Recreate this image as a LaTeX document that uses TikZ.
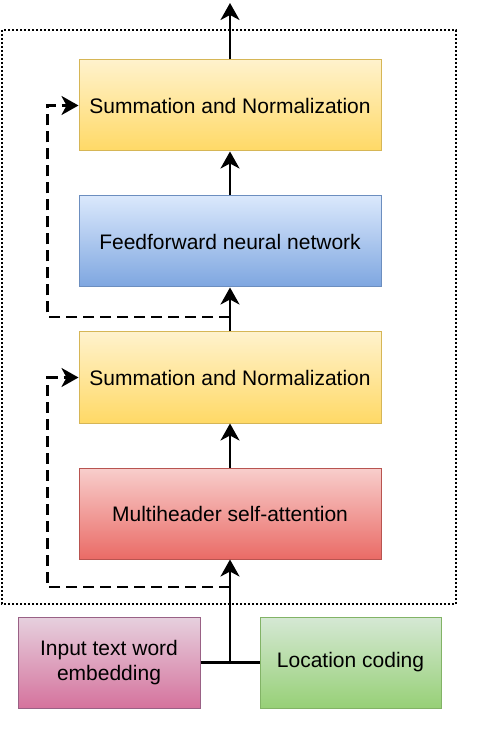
\documentclass[tikz,border=0pt]{standalone}
\usepackage{fontspec}
\setmainfont{Liberation Sans}
\usepackage{tikz}
\usetikzlibrary{shapes,arrows.meta,positioning,calc}

\definecolor{yelTop}{HTML}{FFF2CC}\definecolor{yelBot}{HTML}{FFD966}\definecolor{yelLine}{HTML}{D6B656}
\definecolor{bluTop}{HTML}{DAE8FC}\definecolor{bluBot}{HTML}{7EA6E0}\definecolor{bluLine}{HTML}{6C8EBF}
\definecolor{redTop}{HTML}{F8CECC}\definecolor{redBot}{HTML}{EA6B66}\definecolor{redLine}{HTML}{B85450}
\definecolor{pnkTop}{HTML}{E6D0DE}\definecolor{pnkBot}{HTML}{D5739D}\definecolor{pnkLine}{HTML}{996185}
\definecolor{grnTop}{HTML}{D5E8D4}\definecolor{grnBot}{HTML}{97D077}\definecolor{grnLine}{HTML}{82B366}

\tikzset{
  block/.style={draw, line width=0.5pt, minimum width=151pt, minimum height=45.5pt,
    inner sep=2pt, align=center, font=\fontsize{10.5}{12.5}\selectfont},
  sumnorm/.style={block, top color=yelTop, bottom color=yelBot, draw=yelLine},
  ffn/.style={block, top color=bluTop, bottom color=bluBot, draw=bluLine},
  attn/.style={block, top color=redTop, bottom color=redBot, draw=redLine},
  embed/.style={block, minimum width=91pt, top color=pnkTop, bottom color=pnkBot, draw=pnkLine},
  poscode/.style={block, minimum width=90.5pt, top color=grnTop, bottom color=grnBot, draw=grnLine},
  flow/.style={line width=1.3pt, -{Stealth[length=8.5pt,width=9.5pt,inset=2.5pt]}},
  skip/.style={flow, dash pattern=on 5.5pt off 3pt},
  frame/.style={line width=1.2pt, dash pattern=on 1pt off 1pt}
}

\begin{document}
\begin{tikzpicture}[x=0.5pt, y=-0.5pt]
  % Canvas (pixel units, y downwards)
  \useasboundingbox (0,0) rectangle (484,742);

  % Encoder frame
  \draw[frame] (2,30) rectangle (456,604);

  % Blocks
  \node[sumnorm] (add2) at (230,105.5) {Summation and Normalization};
  \node[ffn]     (ff)   at (230,241.5) {Feedforward neural network};
  \node[sumnorm] (add1) at (230,377.5) {Summation and Normalization};
  \node[attn]    (mhsa) at (230,513.5) {Multiheader self-attention};

  % Inputs
  \node[embed]   (emb) at (109,662.5) {Input text word\\embedding};
  \node[poscode] (loc) at (350.5,662.5) {Location coding};

  % Helper points
  \coordinate (join) at (emb.east -| mhsa.south);
  \coordinate (out)  at (230,3);
  \coordinate (r1)   at (230,587);
  \coordinate (r2)   at (230,317);

  % Main path
  \draw[line width=1.3pt] (emb.east) -- (loc.west);
  \draw[flow] (join) -- (mhsa.south);
  \draw[flow] (mhsa.north) -- (add1.south);
  \draw[flow] (add1.north) -- (ff.south);
  \draw[flow] (ff.north) -- (add2.south);
  \draw[flow] (add2.north) -- (out);

  % Residual connections
  \draw[skip] (r1) -| ([xshift=-15.5pt]add1.west) -- (add1.west);
  \draw[skip] (r2) -| ([xshift=-15.5pt]add2.west) -- (add2.west);
\end{tikzpicture}
\end{document}
